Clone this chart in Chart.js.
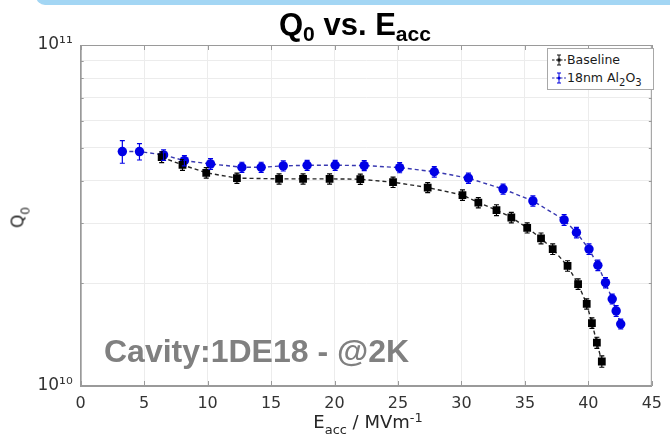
<!DOCTYPE html>
<html>
<head>
<meta charset="utf-8">
<script src="https://cdn.jsdelivr.net/npm/chart.js@4"></script>
<style>
html,body{margin:0;padding:0;background:#fff;}
#wrap{position:relative;width:670px;height:442px;overflow:hidden;font-family:"DejaVu Sans",sans-serif;color:#262626;}
#c{position:absolute;left:0;top:0;}
.stripe{position:absolute;left:36px;top:-20px;width:700px;height:25px;background:#a3d6f4;border-radius:0 0 0 9px;}
#title{position:absolute;left:0;width:710px;top:9px;text-align:center;font:bold 31px "Liberation Sans",Arial,sans-serif;line-height:31px;color:#000;white-space:nowrap;}
#title sub{font-size:0.68em;vertical-align:-0.3em;line-height:0;}
#xlab{position:absolute;left:0;width:736px;top:413px;text-align:center;font:18px "DejaVu Sans",sans-serif;line-height:18px;white-space:nowrap;}
#xlab sub,#ylab sub{font-size:0.72em;vertical-align:-0.45em;line-height:0;}
#xlab sup{font-size:0.72em;vertical-align:0.5em;line-height:0;}
#ylab{position:absolute;left:-32px;top:209px;width:100px;text-align:center;font:17px "DejaVu Sans",sans-serif;line-height:17px;transform:rotate(-90deg);white-space:nowrap;}
#note{position:absolute;left:104px;top:335px;font:bold 32px "Liberation Sans",Arial,sans-serif;line-height:32px;color:#808080;white-space:nowrap;}
#legend{position:absolute;left:547px;top:48px;width:107px;height:42px;border:1px solid #a8a8a8;background:#fff;font:12.5px "DejaVu Sans",sans-serif;color:#1a1a1a;box-sizing:border-box;}
#legend .row{position:absolute;left:4px;white-space:nowrap;line-height:14px;}
#legend svg{vertical-align:-2px;margin-right:1px;}
#legend sub{font-size:0.8em;vertical-align:-0.35em;line-height:0;}
</style>
</head>
<body>
<div id="wrap">
  <div class="stripe"></div>
  <canvas id="c" width="670" height="442"></canvas>
  <div id="title">Q<sub>0</sub> vs. E<sub>acc</sub></div>
  <div id="ylab">Q<sub>0</sub></div>
  <div id="xlab">E<sub>acc</sub> / MVm<sup>-1</sup></div>
  <div id="note">Cavity:1DE18 - @2K</div>
  <div id="legend">
    <div class="row" style="top:4px"><svg width="14" height="12"><line x1="0" y1="6" x2="14" y2="6" stroke="#111" stroke-width="1" stroke-dasharray="2.5,1.5"/><line x1="7" y1="1" x2="7" y2="11" stroke="#111" stroke-width="1"/><line x1="5" y1="1" x2="9" y2="1" stroke="#111"/><line x1="5" y1="11" x2="9" y2="11" stroke="#111"/><rect x="5.5" y="4.5" width="3" height="3" fill="#111"/></svg>Baseline</div>
    <div class="row" style="top:22px"><svg width="14" height="12"><line x1="0" y1="6" x2="14" y2="6" stroke="#3535b0" stroke-width="1" stroke-dasharray="2.5,1.5"/><line x1="7" y1="1" x2="7" y2="11" stroke="#0000e0" stroke-width="1"/><line x1="5" y1="1" x2="9" y2="1" stroke="#0000e0"/><line x1="5" y1="11" x2="9" y2="11" stroke="#0000e0"/><circle cx="7" cy="6" r="1.6" fill="#0000e0"/></svg>18nm Al<sub>2</sub>O<sub>3</sub></div>
  </div>
</div>
<script>
// ---- data ----
const baselineE   = [6.38, 8.02, 9.89, 12.31, 15.63, 17.52, 19.61, 22.03, 24.61, 27.34, 30.08, 31.33, 32.76, 33.93, 35.18, 36.27, 37.19, 38.36, 39.19, 39.87, 40.28, 40.67, 41.06];
const baselineQ0  = [4.69e10, 4.45e10, 4.22e10, 4.07e10, 4.05e10, 4.05e10, 4.05e10, 4.04e10, 3.96e10, 3.82e10, 3.63e10, 3.45e10, 3.28e10, 3.12e10, 2.91e10, 2.71e10, 2.52e10, 2.25e10, 1.99e10, 1.74e10, 1.53e10, 1.34e10, 1.18e10];
const baselineErr = [0.17e10, 0.16e10, 0.15e10, 0.14e10, 0.14e10, 0.14e10, 0.14e10, 0.14e10, 0.14e10, 0.13e10, 0.13e10, 0.12e10, 0.12e10, 0.11e10, 0.10e10, 0.10e10, 0.09e10, 0.08e10, 0.07e10, 0.06e10, 0.055e10, 0.05e10, 0.045e10];

const al2o3E   = [3.28, 4.63, 6.53, 8.17, 10.23, 12.70, 14.22, 15.96, 17.84, 20.05, 22.34, 25.13, 27.86, 30.55, 33.28, 35.63, 38.09, 39.06, 40.05, 40.75, 41.35, 41.88, 42.19, 42.55];
const al2o3Q0  = [4.87e10, 4.87e10, 4.76e10, 4.58e10, 4.48e10, 4.38e10, 4.38e10, 4.42e10, 4.44e10, 4.44e10, 4.43e10, 4.37e10, 4.25e10, 4.07e10, 3.78e10, 3.49e10, 3.07e10, 2.82e10, 2.52e10, 2.26e10, 2.01e10, 1.80e10, 1.66e10, 1.52e10];
const al2o3Err = [0.37e10, 0.27e10, 0.17e10, 0.16e10, 0.16e10, 0.15e10, 0.15e10, 0.15e10, 0.15e10, 0.15e10, 0.15e10, 0.15e10, 0.15e10, 0.14e10, 0.13e10, 0.12e10, 0.11e10, 0.10e10, 0.09e10, 0.08e10, 0.07e10, 0.06e10, 0.06e10, 0.05e10];

const xTickValues = [0, 5, 10, 15, 20, 25, 30, 35, 40, 45];
const yGridValues = [1e10, 2e10, 3e10, 4e10, 5e10, 6e10, 7e10, 8e10, 9e10, 1e11];
const yMajorTicks = [1e10, 1e11];
const yMajorLabels = ['10\u00B9\u2070', '10\u00B9\u00B9'];

// ---- plugins ----
const errorBars = {
  id: 'errorBars',
  afterDatasetsDraw(chart) {
    const ctx = chart.ctx, ys = chart.scales.y;
    chart.data.datasets.forEach((ds, di) => {
      const meta = chart.getDatasetMeta(di);
      ctx.save();
      ctx.strokeStyle = ds.pointBackgroundColor;
      ctx.lineWidth = 1.2;
      meta.data.forEach((pt, i) => {
        const v = ds.data[i].y, e = ds.errors[i];
        const yt = ys.getPixelForValue(v + e), yb = ys.getPixelForValue(v - e);
        ctx.beginPath();
        ctx.moveTo(pt.x, yt); ctx.lineTo(pt.x, yb);
        ctx.moveTo(pt.x - 2.5, yt); ctx.lineTo(pt.x + 2.5, yt);
        ctx.moveTo(pt.x - 2.5, yb); ctx.lineTo(pt.x + 2.5, yb);
        ctx.stroke();
      });
      ctx.restore();
    });
  }
};

const boxAndTicks = {
  id: 'boxAndTicks',
  beforeDatasetsDraw(chart) {
    const {ctx, chartArea: a, scales: {x, y}} = chart;
    ctx.save();
    ctx.strokeStyle = '#9a9a9a';
    ctx.lineWidth = 1;
    ctx.strokeRect(a.left + 0.5, a.top + 0.5, a.right - a.left - 1, a.bottom - a.top - 1);
    ctx.beginPath();
    x.ticks.forEach(t => {
      const px = Math.round(x.getPixelForValue(t.value)) + 0.5;
      ctx.moveTo(px, a.bottom); ctx.lineTo(px, a.bottom - 5);
      ctx.moveTo(px, a.top); ctx.lineTo(px, a.top + 5);
    });
    y.ticks.forEach(t => {
      const py = Math.round(y.getPixelForValue(t.value)) + 0.5;
      const len = yMajorTicks.some(m => Math.abs(m - t.value) / m < 1e-6) ? 5 : 3;
      ctx.moveTo(a.left, py); ctx.lineTo(a.left + len, py);
      ctx.moveTo(a.right, py); ctx.lineTo(a.right - len, py);
    });
    ctx.stroke();
    ctx.restore();
  }
};

// ---- chart ----
new Chart(document.getElementById('c'), {
  type: 'line',
  data: {
    datasets: [
      {
        label: 'Baseline',
        data: baselineE.map((e, i) => ({x: e, y: baselineQ0[i]})),
        errors: baselineErr,
        borderColor: '#262626',
        borderWidth: 1.4,
        borderDash: [4, 3],
        pointStyle: 'rect',
        pointRadius: 5.5,
        pointBackgroundColor: '#000000',
        pointBorderColor: '#000000',
        pointBorderWidth: 0,
        fill: false,
        tension: 0
      },
      {
        label: '18nm Al2O3',
        data: al2o3E.map((e, i) => ({x: e, y: al2o3Q0[i]})),
        errors: al2o3Err,
        borderColor: '#3838b0',
        borderWidth: 1.4,
        borderDash: [4, 3],
        pointStyle: 'circle',
        pointRadius: 4.7,
        pointBackgroundColor: '#0000e6',
        pointBorderColor: '#0000e6',
        pointBorderWidth: 0,
        fill: false,
        tension: 0
      }
    ]
  },
  options: {
    responsive: false,
    animation: false,
    devicePixelRatio: 1,
    layout: {padding: {top: 45, right: 13.3, left: 0, bottom: 0}},
    plugins: {legend: {display: false}, title: {display: false}, tooltip: {enabled: false}},
    scales: {
      x: {
        type: 'linear', min: 0, max: 45,
        afterBuildTicks(s) { s.ticks = xTickValues.map(v => ({value: v})); },
        ticks: {font: {family: 'DejaVu Sans', size: 16}, color: '#333', padding: 8, maxRotation: 0, autoSkip: false},
        grid: {color: '#ececec', drawTicks: false},
        border: {color: '#9a9a9a'},
        afterFit(s) { s.height = 56; }
      },
      y: {
        type: 'logarithmic', min: 1e10, max: 1e11,
        afterBuildTicks(s) { s.ticks = yGridValues.map(v => ({value: v})); },
        ticks: {
          autoSkip: false,
          font: {family: 'DejaVu Sans', size: 17}, color: '#333', padding: 8,
          callback(v) {
            const i = yMajorTicks.findIndex(m => Math.abs(m - v) / m < 1e-6);
            return i >= 0 ? yMajorLabels[i] : '';
          }
        },
        grid: {color: '#ececec', drawTicks: false},
        border: {color: '#9a9a9a'},
        afterFit(s) { s.width = 80.7; }
      }
    }
  },
  plugins: [boxAndTicks, errorBars]
});
</script>
</body>
</html>
